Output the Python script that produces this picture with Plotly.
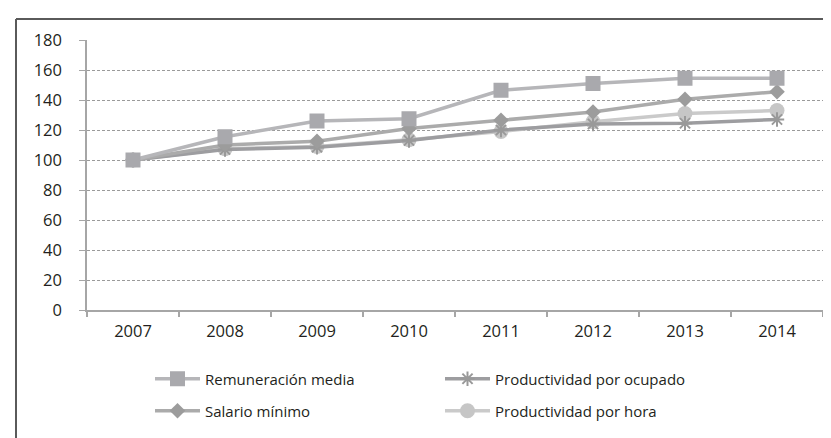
import plotly.graph_objects as go

years = ["2007", "2008", "2009", "2010", "2011", "2012", "2013", "2014"]
remuneracion_media = [100, 115.5, 126, 127.5, 146.5, 151, 154.5, 154.5]
salario_minimo = [100, 110, 112.5, 121, 126.5, 132, 140.5, 145.5]
prod_ocupado = [100, 107, 108.5, 113, 120, 124, 124.5, 127]
prod_hora = [100, 107.5, 109, 113.5, 119, 125.5, 131, 133]
y_ticks = [0, 20, 40, 60, 80, 100, 120, 140, 160, 180]

FONT = "Open Sans"
W, H = 831, 438
ML, MR, MT, MB = 79, 16, 32, 136
PW, PH = W - ML - MR, H - MT - MB


def px_x(x):
    return (x - ML) / PW


def px_y(y):
    return (H - MB - y) / PH


fig = go.Figure()

fig.add_trace(go.Scatter(
    x=years, y=prod_hora, name="Productividad por hora", mode="lines+markers",
    line=dict(color="#cacaca", width=3.5),
    marker=dict(symbol="circle", size=15, color="#c6c6c6"),
    legend="legend4"))
fig.add_trace(go.Scatter(
    x=years, y=prod_ocupado, name="Productividad por ocupado", mode="lines+markers",
    line=dict(color="#9d9da0", width=3.5),
    marker=dict(symbol="asterisk-open", size=12, color="#999999",
                line=dict(color="#999999", width=2)),
    legend="legend2"))
fig.add_trace(go.Scatter(
    x=years, y=salario_minimo, name="Salario mínimo", mode="lines+markers",
    line=dict(color="#ababab", width=3.5),
    marker=dict(symbol="diamond", size=12, color="#9c9c9c"),
    legend="legend3"))
fig.add_trace(go.Scatter(
    x=years, y=remuneracion_media, name="Remuneración media", mode="lines+markers",
    line=dict(color="#b6b6b9", width=3.5),
    marker=dict(symbol="square", size=15, color="#a9a9ad"),
    legend="legend"))

leg_common = dict(orientation="h", xanchor="left", yanchor="middle",
                  font=dict(family=FONT, size=15, color="#231f20"),
                  bgcolor="rgba(0,0,0,0)", itemwidth=45, borderwidth=0)

fig.update_layout(
    width=W, height=H,
    margin=dict(l=ML, r=MR, t=MT, b=MB, autoexpand=False),
    paper_bgcolor="white", plot_bgcolor="white",
    font=dict(family=FONT, size=15, color="#231f20"),
    xaxis=dict(type="category", categoryorder="array", categoryarray=years,
               range=[-0.5, 7.5], showgrid=False, showline=True,
               linecolor="#a6a6a6", linewidth=1.5, ticks="outside",
               tickson="boundaries", ticklen=5, tickcolor="#a6a6a6",
               tickwidth=1.5, ticklabelstandoff=5, zeroline=False,
               tickfont=dict(family=FONT, size=16.5, color="#231f20")),
    yaxis=dict(range=[0, 180], tickvals=y_ticks, showgrid=True,
               gridcolor="#9a9a9a", griddash="3px,2px", gridwidth=1,
               showline=True, linecolor="#a6a6a6", linewidth=1.5,
               ticks="outside", ticklen=6, tickcolor="#a6a6a6", tickwidth=1,
               zeroline=False, ticklabelstandoff=14,
               tickfont=dict(family=FONT, size=16.5, color="#231f20")),
    legend=dict(x=px_x(142), y=px_y(371), **leg_common),
    legend2=dict(x=px_x(432), y=px_y(371), **leg_common),
    legend3=dict(x=px_x(142), y=px_y(403), **leg_common),
    legend4=dict(x=px_x(432), y=px_y(403), **leg_common),
    shapes=[
        dict(type="line", xref="paper", yref="paper",
             x0=px_x(8), x1=px_x(840), y0=px_y(11), y1=px_y(11),
             line=dict(color="#5a5a5a", width=2)),
        dict(type="line", xref="paper", yref="paper",
             x0=px_x(8), x1=px_x(8), y0=px_y(11), y1=px_y(445),
             line=dict(color="#5a5a5a", width=2)),
    ],
    showlegend=True,
)

fig.write_html("out.html")
